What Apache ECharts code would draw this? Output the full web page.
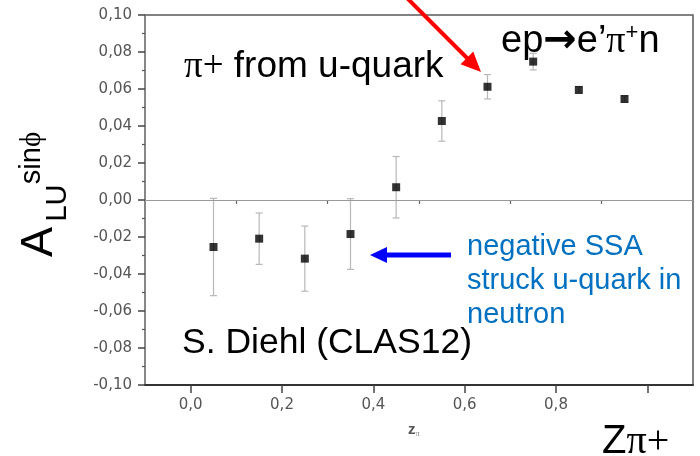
<!DOCTYPE html>
<html>
<head>
<meta charset="utf-8">
<script src="https://cdn.jsdelivr.net/npm/echarts@6/dist/echarts.min.js"></script>
<style>
  html, body { margin: 0; padding: 0; background: #ffffff; }
  #chart { width: 700px; height: 456px; }
</style>
</head>
<body>
<div id="chart"></div>
<script>
// Beam-spin asymmetry A_LU^{sin phi} versus z of the pi+ (ep -> e' pi+ n)
const zValues      = [0.05, 0.15, 0.25, 0.35, 0.45, 0.55, 0.65, 0.75, 0.85, 0.95];
const asymmetry    = [-0.0254, -0.0209, -0.0317, -0.0184, 0.0069, 0.0427, 0.0612, 0.0748, 0.0595, 0.0546];
const asymmetryErr = [0.0263, 0.0139, 0.0176, 0.0191, 0.0166, 0.0109, 0.0066, 0.0045, 0.0018, 0.0016];

const xTickValues = [0.0, 0.2, 0.4, 0.6, 0.8];
const xTickLabels = ['0,0', '0,2', '0,4', '0,6', '0,8'];
const yTickLabels = ['-0,10', '-0,08', '-0,06', '-0,04', '-0,02', '0,00', '0,02', '0,04', '0,06', '0,08', '0,10'];

const points = zValues.map((z, i) => [z, asymmetry[i]]);
const errBars = zValues.map((z, i) => [z, asymmetry[i] - asymmetryErr[i], asymmetry[i] + asymmetryErr[i]]);

const SANS = '"Liberation Sans", Arial, sans-serif';
const SERIF = '"Liberation Serif", "Times New Roman", serif';
const TICK_FONT = '"DejaVu Sans", sans-serif';

function arrow(id, x1, y1, x2, y2, color, width, headLen, headHalf) {
  const dx = x2 - x1, dy = y2 - y1;
  const len = Math.hypot(dx, dy);
  const ux = dx / len, uy = dy / len;
  const bx = x2 - ux * headLen, by = y2 - uy * headLen;
  return [
    { type: 'line', id: id + '-shaft', silent: true, z: 100,
      shape: { x1: x1, y1: y1, x2: bx + ux * 2, y2: by + uy * 2 },
      style: { stroke: color, lineWidth: width } },
    { type: 'polygon', id: id + '-head', silent: true, z: 100,
      shape: { points: [[x2, y2], [bx - uy * headHalf, by + ux * headHalf], [bx + uy * headHalf, by - ux * headHalf]] },
      style: { fill: color } }
  ];
}

const chart = echarts.init(document.getElementById('chart'), null, { renderer: 'canvas' });

chart.setOption({
  animation: false,
  backgroundColor: '#ffffff',
  grid: {
    left: 145, right: 7, top: 15, bottom: 71,
    show: true, borderColor: '#5a5a5a', borderWidth: 1.5, backgroundColor: 'transparent'
  },
  xAxis: [
    {
      type: 'value', min: -0.1, max: 1.1, interval: 0.1,
      axisLine: { show: true, onZero: false, lineStyle: { color: '#333', width: 2 } },
      axisTick: { show: true, inside: false, length: 8, customValues: [0, 0.2, 0.4, 0.6, 0.8, 1.0], lineStyle: { color: '#444', width: 1.5 } },
      axisLabel: {
        show: true, margin: 13, color: '#555', fontSize: 15, fontFamily: TICK_FONT,
        customValues: xTickValues,
        formatter: v => xTickLabels[Math.round(v / 0.2)] || ''
      },
      splitLine: { show: false }
    },
    {
      type: 'value', min: -0.1, max: 1.1, interval: 0.1, position: 'bottom',
      axisLine: { show: false },
      axisTick: { show: true, inside: false, length: 4, customValues: [0.1, 0.3, 0.5, 0.7, 0.9], lineStyle: { color: '#666', width: 1.2 } },
      axisLabel: { show: false },
      splitLine: { show: false }
    }
  ],
  yAxis: {
    type: 'value', min: -0.1, max: 0.1, interval: 0.02,
    axisLine: { show: true, onZero: false, lineStyle: { color: '#888', width: 1.5 } },
    axisTick: { show: true, inside: false, length: 7, lineStyle: { color: '#444', width: 1.5 } },
    minorTick: { show: true, splitNumber: 2, length: 3, lineStyle: { color: '#555', width: 1.2 } },
    axisLabel: {
      margin: 13, color: '#555', fontSize: 15, fontFamily: TICK_FONT,
      formatter: v => yTickLabels[Math.round((v + 0.1) / 0.02)]
    },
    splitLine: { show: false }
  },
  series: [
    {
      type: 'custom', name: 'error', xAxisIndex: 0, data: errBars, z: 2, silent: true,
      renderItem: (params, api) => {
        const lo = api.coord([api.value(0), api.value(1)]);
        const hi = api.coord([api.value(0), api.value(2)]);
        const cap = 3.5;
        const style = { stroke: '#b8b8b8', lineWidth: 1.2 };
        return {
          type: 'group',
          children: [
            { type: 'line', shape: { x1: lo[0], y1: lo[1], x2: hi[0], y2: hi[1] }, style: style },
            { type: 'line', shape: { x1: lo[0] - cap, y1: lo[1], x2: lo[0] + cap, y2: lo[1] }, style: style },
            { type: 'line', shape: { x1: hi[0] - cap, y1: hi[1], x2: hi[0] + cap, y2: hi[1] }, style: style }
          ]
        };
      }
    },
    {
      type: 'scatter', name: 'A_LU', xAxisIndex: 0, data: points, z: 3,
      symbol: 'rect', symbolSize: 8, itemStyle: { color: '#000' },
      markLine: {
        silent: true, symbol: ['none', 'none'], label: { show: false },
        lineStyle: { color: '#999', width: 1.2, type: 'solid' },
        data: [{ yAxis: 0 }]
      }
    }
  ],
  graphic: [
    // y-axis title, drawn rotated
    { type: 'text', rotation: Math.PI / 2, x: 40, y: 242, z: 50,
      style: { text: 'A', fontSize: 45, fontFamily: SANS, fill: '#000', align: 'center', verticalAlign: 'middle' } },
    { type: 'text', rotation: Math.PI / 2, x: 58, y: 203, z: 50,
      style: { text: 'LU', fontSize: 29, fontFamily: SANS, fill: '#000', align: 'center', verticalAlign: 'middle' } },
    { type: 'text', rotation: Math.PI / 2, x: 32, y: 158, z: 50,
      style: { text: 'sin{p|ϕ}', fontSize: 29, fontFamily: SANS, fill: '#000', align: 'center', verticalAlign: 'middle',
        rich: { p: { fontSize: 29, fontFamily: SERIF, fill: '#000' } } } },

    // in-plot annotations
    { type: 'text', x: 184, y: 67, z: 50,
      style: { text: '{p|π+} from u-quark', fontSize: 37, fontFamily: SANS, fill: '#000', align: 'left', verticalAlign: 'middle',
        rich: { p: { fontSize: 37, fontFamily: SERIF, fill: '#000' } } } },
    { type: 'text', x: 501, y: 42, z: 50,
      style: { text: '{a|ep}{r|→}{a|e’}{p|π}{s|+}{a|n}', fill: '#000', align: 'left', verticalAlign: 'middle',
        rich: {
          a: { fontSize: 38, fontFamily: SANS, fill: '#000' },
          r: { fontSize: 40, fontFamily: '"DejaVu Sans", sans-serif', fontWeight: 'bold', fill: '#000' },
          p: { fontSize: 38, fontFamily: SERIF, fill: '#000' },
          s: { fontSize: 22, fontFamily: SANS, fill: '#000', verticalAlign: 'top' }
        } } },
    { type: 'text', x: 182, y: 343, z: 50,
      style: { text: 'S. Diehl (CLAS12)', fontSize: 35.5, fontFamily: SANS, fill: '#000', align: 'left', verticalAlign: 'middle' } },
    { type: 'text', x: 467, y: 281, z: 50,
      style: { text: 'negative SSA\nstruck u-quark in\nneutron', fontSize: 29, lineHeight: 34, fontFamily: SANS, fill: '#0070c0', align: 'left', verticalAlign: 'middle' } },

    // x-axis titles
    { type: 'text', x: 408, y: 430, z: 50,
      style: { text: '{z|z}{s|π}', fill: '#555', align: 'left', verticalAlign: 'middle',
        rich: { z: { fontSize: 15, fontWeight: 'bold', fontFamily: SANS, fill: '#555' },
                s: { fontSize: 8, fontFamily: SERIF, fill: '#777', verticalAlign: 'bottom' } } } },
    { type: 'text', x: 602, y: 442, z: 50,
      style: { text: '{z|Z}{p|π+}', fill: '#000', align: 'left', verticalAlign: 'middle',
        rich: { z: { fontSize: 40, fontFamily: SANS, fill: '#000' },
                p: { fontSize: 40, fontFamily: SERIF, fill: '#000' } } } }
  ]
    .concat(arrow('red', 405, -4, 481, 72, '#ff0000', 4, 20, 9))
    .concat(arrow('blue', 451, 255, 370, 255, '#0000ff', 5, 17, 8))
});
</script>
</body>
</html>
